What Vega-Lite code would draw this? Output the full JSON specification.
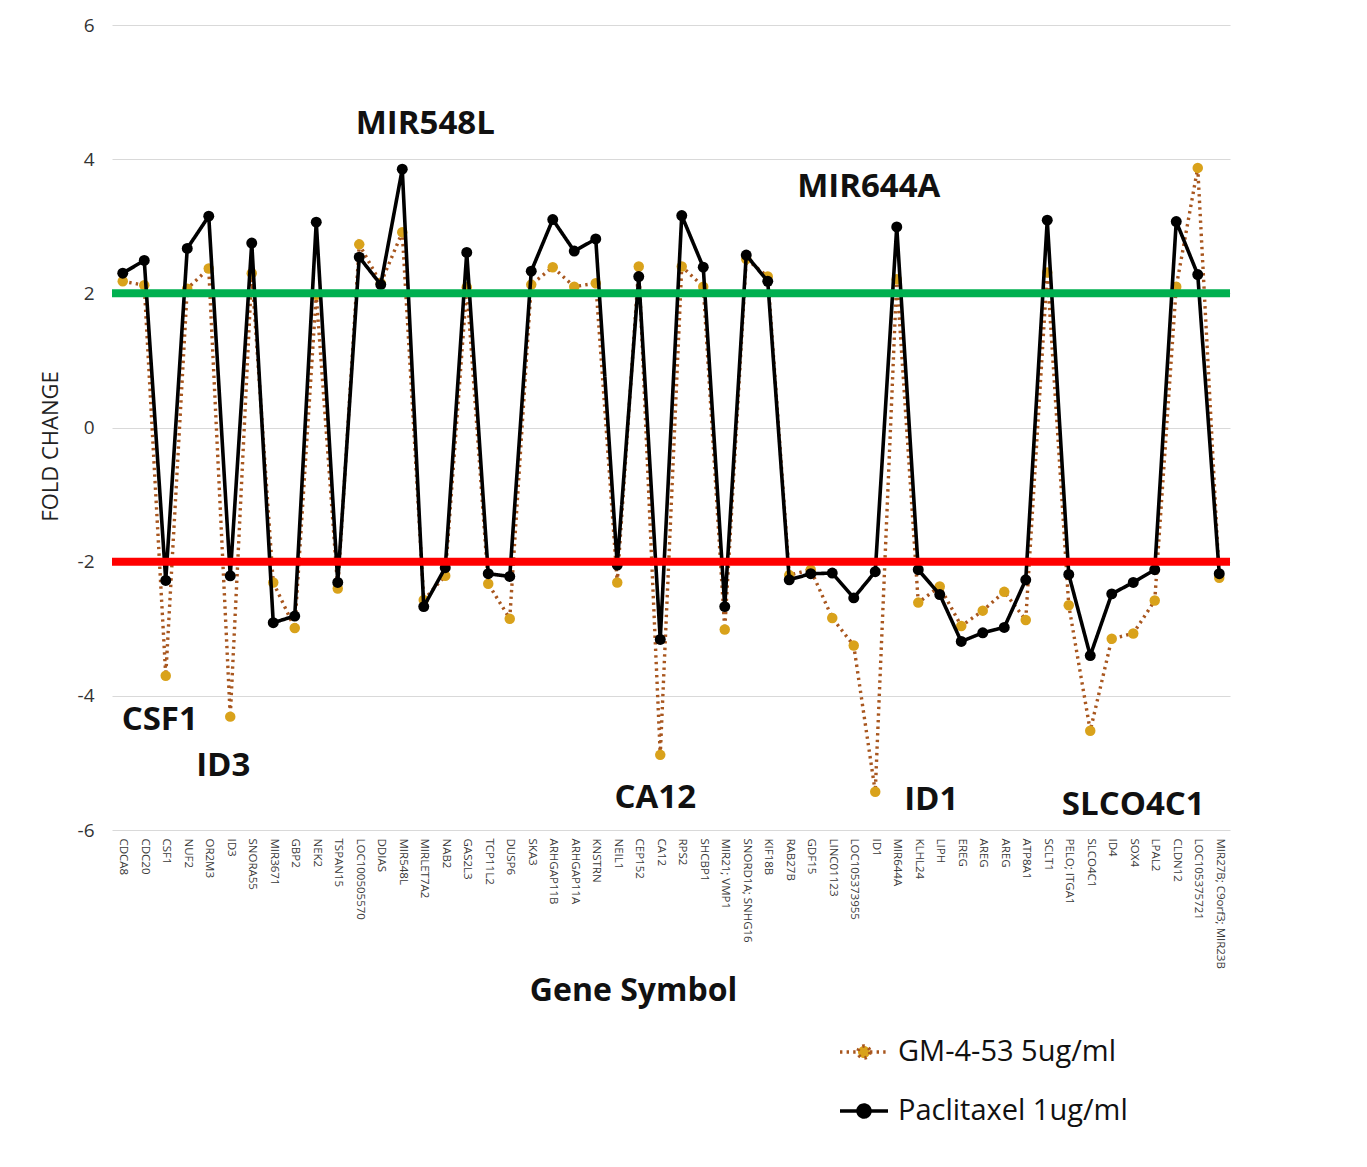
{
  "$schema": "https://vega.github.io/schema/vega-lite/v6.json",
  "width": 1118,
  "height": 805,
  "autosize": {"type": "none"},
  "padding": {"left": 112, "top": 25, "right": 137, "bottom": 337},
  "background": "white",
  "config": {"font": "Open Sans", "view": {"stroke": null}},
  "datasets": {
    "fc": [
      {"gene": "CDCA8", "series": "GM-4-53 5ug/ml", "fc": 2.18}, {"gene": "CDCA8", "series": "Paclitaxel 1ug/ml", "fc": 2.30},
      {"gene": "CDC20", "series": "GM-4-53 5ug/ml", "fc": 2.12}, {"gene": "CDC20", "series": "Paclitaxel 1ug/ml", "fc": 2.49},
      {"gene": "CSF1", "series": "GM-4-53 5ug/ml", "fc": -3.70}, {"gene": "CSF1", "series": "Paclitaxel 1ug/ml", "fc": -2.28},
      {"gene": "NUF2", "series": "GM-4-53 5ug/ml", "fc": 2.07}, {"gene": "NUF2", "series": "Paclitaxel 1ug/ml", "fc": 2.67},
      {"gene": "OR2M3", "series": "GM-4-53 5ug/ml", "fc": 2.37}, {"gene": "OR2M3", "series": "Paclitaxel 1ug/ml", "fc": 3.15},
      {"gene": "ID3", "series": "GM-4-53 5ug/ml", "fc": -4.31}, {"gene": "ID3", "series": "Paclitaxel 1ug/ml", "fc": -2.21},
      {"gene": "SNORA55", "series": "GM-4-53 5ug/ml", "fc": 2.30}, {"gene": "SNORA55", "series": "Paclitaxel 1ug/ml", "fc": 2.75},
      {"gene": "MIR3671", "series": "GM-4-53 5ug/ml", "fc": -2.31}, {"gene": "MIR3671", "series": "Paclitaxel 1ug/ml", "fc": -2.91},
      {"gene": "GBP2", "series": "GM-4-53 5ug/ml", "fc": -2.99}, {"gene": "GBP2", "series": "Paclitaxel 1ug/ml", "fc": -2.81},
      {"gene": "NEK2", "series": "GM-4-53 5ug/ml", "fc": 1.98}, {"gene": "NEK2", "series": "Paclitaxel 1ug/ml", "fc": 3.06},
      {"gene": "TSPAN15", "series": "GM-4-53 5ug/ml", "fc": -2.40}, {"gene": "TSPAN15", "series": "Paclitaxel 1ug/ml", "fc": -2.31},
      {"gene": "LOC100505570", "series": "GM-4-53 5ug/ml", "fc": 2.73}, {"gene": "LOC100505570", "series": "Paclitaxel 1ug/ml", "fc": 2.54},
      {"gene": "DDIAS", "series": "GM-4-53 5ug/ml", "fc": 2.15}, {"gene": "DDIAS", "series": "Paclitaxel 1ug/ml", "fc": 2.13},
      {"gene": "MIR548L", "series": "GM-4-53 5ug/ml", "fc": 2.91}, {"gene": "MIR548L", "series": "Paclitaxel 1ug/ml", "fc": 3.85},
      {"gene": "MIRLET7A2", "series": "GM-4-53 5ug/ml", "fc": -2.57}, {"gene": "MIRLET7A2", "series": "Paclitaxel 1ug/ml", "fc": -2.67},
      {"gene": "NAB2", "series": "GM-4-53 5ug/ml", "fc": -2.21}, {"gene": "NAB2", "series": "Paclitaxel 1ug/ml", "fc": -2.09},
      {"gene": "GAS2L3", "series": "GM-4-53 5ug/ml", "fc": 2.09}, {"gene": "GAS2L3", "series": "Paclitaxel 1ug/ml", "fc": 2.61},
      {"gene": "TCP11L2", "series": "GM-4-53 5ug/ml", "fc": -2.33}, {"gene": "TCP11L2", "series": "Paclitaxel 1ug/ml", "fc": -2.18},
      {"gene": "DUSP6", "series": "GM-4-53 5ug/ml", "fc": -2.85}, {"gene": "DUSP6", "series": "Paclitaxel 1ug/ml", "fc": -2.22},
      {"gene": "SKA3", "series": "GM-4-53 5ug/ml", "fc": 2.13}, {"gene": "SKA3", "series": "Paclitaxel 1ug/ml", "fc": 2.33},
      {"gene": "ARHGAP11B", "series": "GM-4-53 5ug/ml", "fc": 2.39}, {"gene": "ARHGAP11B", "series": "Paclitaxel 1ug/ml", "fc": 3.10},
      {"gene": "ARHGAP11A", "series": "GM-4-53 5ug/ml", "fc": 2.10}, {"gene": "ARHGAP11A", "series": "Paclitaxel 1ug/ml", "fc": 2.63},
      {"gene": "KNSTRN", "series": "GM-4-53 5ug/ml", "fc": 2.15}, {"gene": "KNSTRN", "series": "Paclitaxel 1ug/ml", "fc": 2.81},
      {"gene": "NEIL1", "series": "GM-4-53 5ug/ml", "fc": -2.31}, {"gene": "NEIL1", "series": "Paclitaxel 1ug/ml", "fc": -2.05},
      {"gene": "CEP152", "series": "GM-4-53 5ug/ml", "fc": 2.40}, {"gene": "CEP152", "series": "Paclitaxel 1ug/ml", "fc": 2.25},
      {"gene": "CA12", "series": "GM-4-53 5ug/ml", "fc": -4.88}, {"gene": "CA12", "series": "Paclitaxel 1ug/ml", "fc": -3.16},
      {"gene": "RPS2", "series": "GM-4-53 5ug/ml", "fc": 2.40}, {"gene": "RPS2", "series": "Paclitaxel 1ug/ml", "fc": 3.16},
      {"gene": "SHCBP1", "series": "GM-4-53 5ug/ml", "fc": 2.10}, {"gene": "SHCBP1", "series": "Paclitaxel 1ug/ml", "fc": 2.39},
      {"gene": "MIR21; VMP1", "series": "GM-4-53 5ug/ml", "fc": -3.01}, {"gene": "MIR21; VMP1", "series": "Paclitaxel 1ug/ml", "fc": -2.67},
      {"gene": "SNORD1A; SNHG16", "series": "GM-4-53 5ug/ml", "fc": 2.51}, {"gene": "SNORD1A; SNHG16", "series": "Paclitaxel 1ug/ml", "fc": 2.57},
      {"gene": "KIF18B", "series": "GM-4-53 5ug/ml", "fc": 2.25}, {"gene": "KIF18B", "series": "Paclitaxel 1ug/ml", "fc": 2.18},
      {"gene": "RAB27B", "series": "GM-4-53 5ug/ml", "fc": -2.20}, {"gene": "RAB27B", "series": "Paclitaxel 1ug/ml", "fc": -2.27},
      {"gene": "GDF15", "series": "GM-4-53 5ug/ml", "fc": -2.12}, {"gene": "GDF15", "series": "Paclitaxel 1ug/ml", "fc": -2.18},
      {"gene": "LINC01123", "series": "GM-4-53 5ug/ml", "fc": -2.84}, {"gene": "LINC01123", "series": "Paclitaxel 1ug/ml", "fc": -2.17},
      {"gene": "LOC105373955", "series": "GM-4-53 5ug/ml", "fc": -3.25}, {"gene": "LOC105373955", "series": "Paclitaxel 1ug/ml", "fc": -2.54},
      {"gene": "ID1", "series": "GM-4-53 5ug/ml", "fc": -5.43}, {"gene": "ID1", "series": "Paclitaxel 1ug/ml", "fc": -2.15},
      {"gene": "MIR644A", "series": "GM-4-53 5ug/ml", "fc": 2.21}, {"gene": "MIR644A", "series": "Paclitaxel 1ug/ml", "fc": 2.99},
      {"gene": "KLHL24", "series": "GM-4-53 5ug/ml", "fc": -2.61}, {"gene": "KLHL24", "series": "Paclitaxel 1ug/ml", "fc": -2.12},
      {"gene": "LIPH", "series": "GM-4-53 5ug/ml", "fc": -2.37}, {"gene": "LIPH", "series": "Paclitaxel 1ug/ml", "fc": -2.49},
      {"gene": "EREG", "series": "GM-4-53 5ug/ml", "fc": -2.96}, {"gene": "EREG", "series": "Paclitaxel 1ug/ml", "fc": -3.19},
      {"gene": "AREG", "series": "GM-4-53 5ug/ml", "fc": -2.73}, {"gene": "AREG", "series": "Paclitaxel 1ug/ml", "fc": -3.06},
      {"gene": "AREG ", "series": "GM-4-53 5ug/ml", "fc": -2.45}, {"gene": "AREG ", "series": "Paclitaxel 1ug/ml", "fc": -2.98},
      {"gene": "ATP8A1", "series": "GM-4-53 5ug/ml", "fc": -2.87}, {"gene": "ATP8A1", "series": "Paclitaxel 1ug/ml", "fc": -2.27},
      {"gene": "SCLT1", "series": "GM-4-53 5ug/ml", "fc": 2.31}, {"gene": "SCLT1", "series": "Paclitaxel 1ug/ml", "fc": 3.09},
      {"gene": "PELO; ITGA1", "series": "GM-4-53 5ug/ml", "fc": -2.65}, {"gene": "PELO; ITGA1", "series": "Paclitaxel 1ug/ml", "fc": -2.19},
      {"gene": "SLCO4C1", "series": "GM-4-53 5ug/ml", "fc": -4.52}, {"gene": "SLCO4C1", "series": "Paclitaxel 1ug/ml", "fc": -3.40},
      {"gene": "ID4", "series": "GM-4-53 5ug/ml", "fc": -3.15}, {"gene": "ID4", "series": "Paclitaxel 1ug/ml", "fc": -2.48},
      {"gene": "SOX4", "series": "GM-4-53 5ug/ml", "fc": -3.07}, {"gene": "SOX4", "series": "Paclitaxel 1ug/ml", "fc": -2.31},
      {"gene": "LPAL2", "series": "GM-4-53 5ug/ml", "fc": -2.58}, {"gene": "LPAL2", "series": "Paclitaxel 1ug/ml", "fc": -2.12},
      {"gene": "CLDN12", "series": "GM-4-53 5ug/ml", "fc": 2.10}, {"gene": "CLDN12", "series": "Paclitaxel 1ug/ml", "fc": 3.07},
      {"gene": "LOC105375721", "series": "GM-4-53 5ug/ml", "fc": 3.87}, {"gene": "LOC105375721", "series": "Paclitaxel 1ug/ml", "fc": 2.28},
      {"gene": "MIR27B; C9orf3; MIR23B", "series": "GM-4-53 5ug/ml", "fc": -2.24}, {"gene": "MIR27B; C9orf3; MIR23B", "series": "Paclitaxel 1ug/ml", "fc": -2.18}
    ],
    "notes": [
      {"gene": "MIR548L", "label": "MIR548L", "fc": 4.52},
      {"gene": "MIR644A", "label": "MIR644A", "fc": 3.58},
      {"gene": "CSF1", "label": "CSF1", "fc": -4.36},
      {"gene": "ID3", "label": "ID3", "fc": -5.04},
      {"gene": "CA12", "label": "CA12", "fc": -5.52},
      {"gene": "ID1", "label": "ID1", "fc": -5.55},
      {"gene": "SLCO4C1", "label": "SLCO4C1", "fc": -5.63}
    ]
  },
  "encoding": {
    "x": {
      "field": "gene", "type": "nominal", "sort": null,
      "scale": {"type": "point", "padding": 0.5, "domain": ["CDCA8","CDC20","CSF1","NUF2","OR2M3","ID3","SNORA55","MIR3671","GBP2","NEK2","TSPAN15","LOC100505570","DDIAS","MIR548L","MIRLET7A2","NAB2","GAS2L3","TCP11L2","DUSP6","SKA3","ARHGAP11B","ARHGAP11A","KNSTRN","NEIL1","CEP152","CA12","RPS2","SHCBP1","MIR21; VMP1","SNORD1A; SNHG16","KIF18B","RAB27B","GDF15","LINC01123","LOC105373955","ID1","MIR644A","KLHL24","LIPH","EREG","AREG","AREG ","ATP8A1","SCLT1","PELO; ITGA1","SLCO4C1","ID4","SOX4","LPAL2","CLDN12","LOC105375721","MIR27B; C9orf3; MIR23B"]},
      "axis": {
        "title": "Gene Symbol", "titleFontSize": 32, "titleFontWeight": "bold", "titleColor": "#111111",
        "titleX": 521, "titleY": 160, "titleAlign": "center", "titleBaseline": "middle",
        "labelAngle": 90, "labelAlign": "left", "labelBaseline": "middle", "labelFontSize": 11.5,
        "labelColor": "#383838", "labelPadding": 8, "labelLimit": 0,
        "domain": false, "ticks": false, "grid": false
      }
    },
    "y": {
      "field": "fc", "type": "quantitative",
      "scale": {"domain": [-6, 6], "nice": false, "zero": false},
      "axis": {
        "title": "FOLD CHANGE", "titleFontSize": 22, "titleFontWeight": "normal", "titleColor": "#222222",
        "titleX": -62, "titleY": 421, "titleAngle": -90, "titleAlign": "center", "titleBaseline": "middle",
        "values": [-6, -4, -2, 0, 2, 4, 6], "labelExpr": "toString(datum.value)", "labelFontSize": 19, "labelColor": "#333333", "labelPadding": 18,
        "domain": false, "ticks": false, "grid": true, "gridColor": "#d9d9d9", "gridWidth": 1.2
      }
    }
  },
  "layer": [
    {
      "data": {"name": "fc"},
      "transform": [{"filter": "datum.series == 'GM-4-53 5ug/ml'"}],
      "mark": {"type": "line", "strokeWidth": 3.4},
      "encoding": {
        "stroke": {"field": "series", "type": "nominal", "scale": {"domain": ["GM-4-53 5ug/ml", "Paclitaxel 1ug/ml"], "range": ["#A8561E", "#000000"]},
          "legend": {"orient": "none", "legendX": 726, "legendY": 1001, "title": null, "labelFontSize": 29, "labelLimit": 0, "labelColor": "#111111", "labelOffset": 8, "rowPadding": 18, "symbolType": "M-1,0L-0.25,0M0.25,0L1,0M0.25,0A0.25,0.25 0 1,1 -0.25,0A0.25,0.25 0 1,1 0.25,0", "symbolSize": 2304, "symbolStrokeWidth": 3.5}},
        "strokeDash": {"field": "series", "type": "nominal", "scale": {"domain": ["GM-4-53 5ug/ml", "Paclitaxel 1ug/ml"], "range": [[2.4, 4.2], [1, 0]]},
          "legend": {"orient": "none", "legendX": 726, "legendY": 1001, "title": null, "labelFontSize": 29, "labelLimit": 0, "labelColor": "#111111", "labelOffset": 8, "rowPadding": 18, "symbolType": "M-1,0L-0.25,0M0.25,0L1,0M0.25,0A0.25,0.25 0 1,1 -0.25,0A0.25,0.25 0 1,1 0.25,0", "symbolSize": 2304, "symbolStrokeWidth": 3.5}}
      }
    },
    {
      "data": {"name": "fc"},
      "transform": [{"filter": "datum.series == 'GM-4-53 5ug/ml'"}],
      "mark": {"type": "point", "filled": true, "opacity": 1, "size": 110, "strokeWidth": 0},
      "encoding": {
        "fill": {"field": "series", "type": "nominal", "scale": {"domain": ["GM-4-53 5ug/ml", "Paclitaxel 1ug/ml"], "range": ["#D9A21B", "#000000"]},
          "legend": {"orient": "none", "legendX": 726, "legendY": 1001, "title": null, "labelFontSize": 29, "labelLimit": 0, "labelColor": "#111111", "labelOffset": 8, "rowPadding": 18, "symbolType": "M-1,0L-0.25,0M0.25,0L1,0M0.25,0A0.25,0.25 0 1,1 -0.25,0A0.25,0.25 0 1,1 0.25,0", "symbolSize": 2304, "symbolStrokeWidth": 3.5}}
      }
    },
    {
      "data": {"name": "fc"},
      "transform": [{"filter": "datum.series == 'Paclitaxel 1ug/ml'"}],
      "mark": {"type": "line", "strokeWidth": 3.6, "strokeJoin": "round"},
      "encoding": {
        "stroke": {"field": "series", "type": "nominal"},
        "strokeDash": {"field": "series", "type": "nominal"}
      }
    },
    {
      "data": {"name": "fc"},
      "transform": [{"filter": "datum.series == 'Paclitaxel 1ug/ml'"}],
      "mark": {"type": "point", "filled": true, "opacity": 1, "size": 120, "strokeWidth": 0},
      "encoding": {
        "fill": {"field": "series", "type": "nominal"}
      }
    },
    {
      "data": {"values": [{"t": 2}]},
      "mark": {"type": "rule", "color": "#00B050", "strokeWidth": 8},
      "encoding": {"y": {"field": "t", "type": "quantitative"}, "x": null}
    },
    {
      "data": {"values": [{"t": -2}]},
      "mark": {"type": "rule", "color": "#FF0000", "strokeWidth": 8},
      "encoding": {"y": {"field": "t", "type": "quantitative"}, "x": null}
    },
    {
      "data": {"name": "notes"},
      "transform": [{"filter": "datum.label == 'MIR548L'"}],
      "mark": {"type": "text", "dx": 23, "fontSize": 33, "fontWeight": "bold", "color": "#111111", "baseline": "middle"},
      "encoding": {"text": {"field": "label"}}
    },
    {
      "data": {"name": "notes"},
      "transform": [{"filter": "datum.label == 'MIR644A'"}],
      "mark": {"type": "text", "dx": -28, "fontSize": 33, "fontWeight": "bold", "color": "#111111", "baseline": "middle"},
      "encoding": {"text": {"field": "label"}}
    },
    {
      "data": {"name": "notes"},
      "transform": [{"filter": "datum.label == 'CSF1'"}],
      "mark": {"type": "text", "dx": -6, "fontSize": 33, "fontWeight": "bold", "color": "#111111", "baseline": "middle"},
      "encoding": {"text": {"field": "label"}}
    },
    {
      "data": {"name": "notes"},
      "transform": [{"filter": "datum.label == 'ID3'"}],
      "mark": {"type": "text", "dx": -7, "fontSize": 33, "fontWeight": "bold", "color": "#111111", "baseline": "middle"},
      "encoding": {"text": {"field": "label"}}
    },
    {
      "data": {"name": "notes"},
      "transform": [{"filter": "datum.label == 'CA12'"}],
      "mark": {"type": "text", "dx": -5, "fontSize": 33, "fontWeight": "bold", "color": "#111111", "baseline": "middle"},
      "encoding": {"text": {"field": "label"}}
    },
    {
      "data": {"name": "notes"},
      "transform": [{"filter": "datum.label == 'ID1'"}],
      "mark": {"type": "text", "dx": 56, "fontSize": 33, "fontWeight": "bold", "color": "#111111", "baseline": "middle"},
      "encoding": {"text": {"field": "label"}}
    },
    {
      "data": {"name": "notes"},
      "transform": [{"filter": "datum.label == 'SLCO4C1'"}],
      "mark": {"type": "text", "dx": 43, "fontSize": 33, "fontWeight": "bold", "color": "#111111", "baseline": "middle"},
      "encoding": {"text": {"field": "label"}}
    }
  ]
}
